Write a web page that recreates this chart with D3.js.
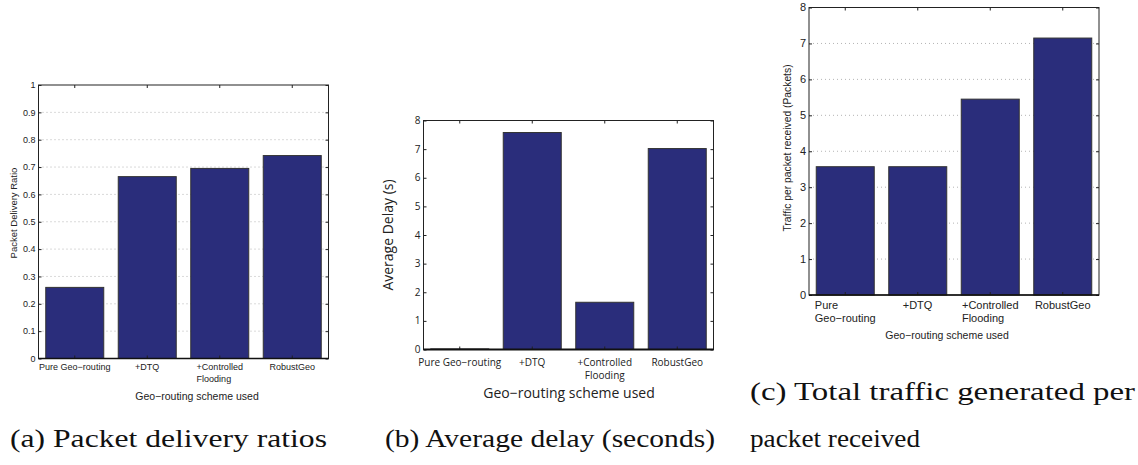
<!DOCTYPE html>
<html>
<head>
<meta charset="utf-8">
<script src="https://cdn.jsdelivr.net/npm/d3@7"></script>
<style>
  body { margin: 0; background: #fff; }
  svg { display: block; }
</style>
</head>
<body>
<svg id="chart" width="1138" height="465"></svg>
<script>
// categories and values
const categories = ["Pure Geo−routing", "+DTQ", "+Controlled Flooding", "RobustGeo"];
const deliveryRatio = [0.26, 0.665, 0.695, 0.742];
const avgDelay = [0.02, 7.58, 1.65, 7.02];
const trafficPerPacket = [3.57, 3.57, 5.45, 7.15];

const ratioTicks = [0, 0.1, 0.2, 0.3, 0.4, 0.5, 0.6, 0.7, 0.8, 0.9, 1];
const delayTicks = [0, 1, 2, 3, 4, 5, 6, 7, 8];
const trafficTicks = [0, 1, 2, 3, 4, 5, 6, 7, 8];

const labelsA = [["Pure Geo−routing"], ["+DTQ"], ["+Controlled", "Flooding"], ["RobustGeo"]];
const labelsB = [["Pure Geo−routing"], ["+DTQ"], ["+Controlled", "Flooding"], ["RobustGeo"]];
const labelsC = [["Pure", "Geo−routing"], ["+DTQ"], ["+Controlled", "Flooding"], ["RobustGeo"]];

const barColor = "#2a2d7b";
const svg = d3.select("#chart");

function drawPanel(p) {
  const g = svg.append("g");

  const x = d3.scaleBand()
    .domain(categories)
    .range([p.left, p.right])
    .paddingInner(0.2)
    .paddingOuter(0.1);

  const y = d3.scaleLinear()
    .domain([0, p.ymax])
    .range([p.bottom, p.top]);

  // dotted grid
  if (p.grid) {
    g.append("g").selectAll("line")
      .data(p.ticks.slice(1, -1))
      .join("line")
      .attr("x1", p.left).attr("x2", p.right)
      .attr("y1", d => y(d)).attr("y2", d => y(d))
      .attr("stroke", "#b4b4b4")
      .attr("stroke-width", 1)
      .attr("stroke-dasharray", "1,3");
  }

  // bars
  g.append("g").selectAll("rect")
    .data(p.values)
    .join("rect")
    .attr("x", (d, i) => x(categories[i]))
    .attr("y", d => y(d))
    .attr("width", x.bandwidth())
    .attr("height", d => p.bottom - y(d))
    .attr("fill", barColor)
    .attr("stroke", "#333")
    .attr("stroke-width", 1);

  // ticks pointing inward on all four sides
  const yLeft = d3.axisRight(y).tickValues(p.ticks).tickSize(p.tick).tickFormat("");
  const yRight = d3.axisLeft(y).tickValues(p.ticks).tickSize(p.tick).tickFormat("");
  g.append("g").attr("transform", `translate(${p.left},0)`).call(yLeft);
  g.append("g").attr("transform", `translate(${p.right},0)`).call(yRight);

  const xBottom = d3.axisTop(x).tickSize(p.tick).tickFormat("");
  const xTop = d3.axisBottom(x).tickSize(p.tick).tickFormat("");
  g.append("g").attr("transform", `translate(0,${p.bottom})`).call(xBottom);
  g.append("g").attr("transform", `translate(0,${p.top})`).call(xTop);

  g.selectAll(".domain").remove();
  g.selectAll(".tick line").attr("stroke", "#222");

  // box
  g.append("rect")
    .attr("x", p.left).attr("y", p.top)
    .attr("width", p.right - p.left).attr("height", p.bottom - p.top)
    .attr("fill", "none").attr("stroke", "#222").attr("stroke-width", 1);
  g.append("line")
    .attr("x1", p.left).attr("x2", p.right)
    .attr("y1", p.bottom).attr("y2", p.bottom)
    .attr("stroke", "#111").attr("stroke-width", p.baseWidth);

  // y tick labels
  g.append("g").selectAll("text")
    .data(p.ticks)
    .join("text")
    .attr("x", p.left - 3)
    .attr("y", d => y(d))
    .attr("dy", "0.35em")
    .attr("text-anchor", "end")
    .attr("font-family", p.font)
    .attr("font-size", p.tickFont)
    .attr("fill", "#222")
    .text((d, i) => p.tickLabels[i]);

  // x tick labels; multi-line ones are a left-aligned block centred on the tick
  p.xLabels.forEach((lines, i) => {
    const cx = x(categories[i]) + x.bandwidth() / 2;
    const t = g.append("text")
      .attr("font-family", p.font)
      .attr("font-size", p.xFont)
      .attr("fill", "#222");
    lines.forEach((line, j) => {
      t.append("tspan")
        .attr("x", 0)
        .attr("y", p.bottom + p.xLabelDy + j * p.lineGap)
        .text(line);
    });
    if (p.centerLines) {
      t.selectAll("tspan").attr("x", cx).attr("text-anchor", "middle");
    } else {
      const w = t.node().getBBox().width;
      t.selectAll("tspan").attr("x", cx - w / 2);
    }
  });

  // axis titles
  g.append("text")
    .attr("x", p.xTitleX)
    .attr("y", p.xTitleY)
    .attr("text-anchor", "middle")
    .attr("font-family", p.font)
    .attr("font-size", p.titleFont)
    .attr("fill", "#222")
    .text("Geo−routing scheme used");

  g.append("text")
    .attr("transform", `translate(${p.yTitleX},${p.yTitleY}) rotate(-90)`)
    .attr("text-anchor", "middle")
    .attr("font-family", p.font)
    .attr("font-size", p.yTitleFont)
    .attr("fill", "#222")
    .text(p.yTitle);
}

const condensed = "'Liberation Sans', Arial, sans-serif";
const myriad = "'Open Sans', 'Noto Sans', sans-serif";

drawPanel({
  left: 38.5, right: 328.5, top: 85, bottom: 358.5,
  ymax: 1, ticks: ratioTicks, tickLabels: ratioTicks.map(d => String(d)),
  values: deliveryRatio, grid: true, tick: 3, baseWidth: 1.5,
  font: condensed, tickFont: 9, xFont: 9, xLabels: labelsA, xLabelDy: 11, lineGap: 12,
  titleFont: 10.5, xTitleX: 197, xTitleY: 400,
  yTitle: "Packet Delivery Ratio", yTitleFont: 9.5, yTitleX: 17, yTitleY: 213
});

drawPanel({
  left: 423.5, right: 713.5, top: 120.5, bottom: 349.5,
  ymax: 8, ticks: delayTicks, tickLabels: delayTicks.map(d => String(d)),
  values: avgDelay, grid: false, tick: 3, baseWidth: 2,
  font: myriad, tickFont: 10, xFont: 10, xLabels: labelsB, xLabelDy: 16, lineGap: 13, centerLines: true,
  titleFont: 14, xTitleX: 569, xTitleY: 398,
  yTitle: "Average Delay (s)", yTitleFont: 14, yTitleX: 393, yTitleY: 235
});

drawPanel({
  left: 809, right: 1099, top: 7.5, bottom: 295,
  ymax: 8, ticks: trafficTicks, tickLabels: trafficTicks.map(d => String(d)),
  values: trafficPerPacket, grid: true, tick: 3, baseWidth: 1.5,
  font: condensed, tickFont: 11, xFont: 11, xLabels: labelsC, xLabelDy: 14, lineGap: 13,
  titleFont: 10.5, xTitleX: 947, xTitleY: 339,
  yTitle: "Traffic per packet received (Packets)", yTitleFont: 10.3, yTitleX: 791, yTitleY: 148
});

// sub-figure captions
const serif = "'Liberation Serif', 'Times New Roman', serif";
const captions = [
  { text: "(a) Packet delivery ratios", x: 10, y: 447, w: 317 },
  { text: "(b) Average delay (seconds)", x: 385, y: 447, w: 330 },
  { text: "(c) Total traffic generated per", x: 750, y: 400, w: 385 },
  { text: "packet received", x: 750, y: 447, w: 170 }
];
svg.append("g").selectAll("text")
  .data(captions)
  .join("text")
  .attr("x", d => d.x)
  .attr("y", d => d.y)
  .attr("font-family", serif)
  .attr("font-size", 25)
  .attr("fill", "#111")
  .attr("textLength", d => d.w)
  .attr("lengthAdjust", "spacingAndGlyphs")
  .text(d => d.text);
</script>
</body>
</html>
